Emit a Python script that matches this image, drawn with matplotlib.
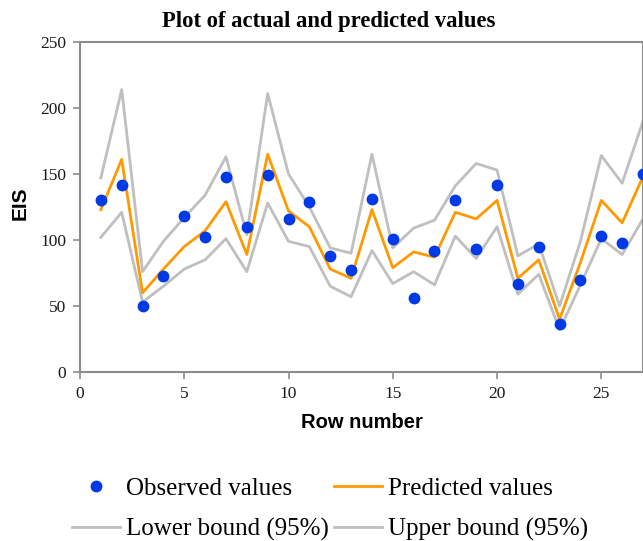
import matplotlib
matplotlib.use("Agg")
import matplotlib.pyplot as plt
from matplotlib.lines import Line2D

# values
rows = list(range(1, 28))
observed = [130, 142, 50, 73, 118, 102, 148, 110, 149, 116, 129, 88, 77,
            131, 101, 56, 92, 130, 93, 142, 67, 95, 36, 70, 103, 98, 150]
predicted = [123, 161, 60, 78, 95, 107, 129, 89, 165, 122, 110, 78, 71,
             123, 79, 91, 87, 121, 116, 130, 71, 85, 40, 83, 130, 113, 148]
lower = [102, 121, 53, 65, 78, 85, 101, 76, 128, 99, 95, 65, 57,
         92, 67, 76, 66, 103, 86, 110, 59, 74, 32, 66, 101, 89, 116]
upper = [147, 214, 76, 99, 117, 134, 163, 104, 211, 150, 125, 94, 90,
         165, 94, 109, 115, 141, 158, 153, 88, 97, 50, 99, 164, 143, 190]

serif = ["Liberation Serif", "DejaVu Serif"]
sans = ["Liberation Sans", "DejaVu Sans"]
gray = "#bfbfbf"
axis_col = "#8c8c8c"

fig = plt.figure(figsize=(6.43, 5.41), dpi=100)
ax = fig.add_axes([80 / 643, 1 - 372 / 541, 563 / 643, 330 / 541])

ax.plot(rows, lower, color=gray, lw=2, zorder=2)
ax.plot(rows, upper, color=gray, lw=2, zorder=2)
ax.plot(rows, predicted, color="#ff9900", lw=2, zorder=3)
ax.plot(rows, observed, "o", color="#0039e6", ms=7.5, zorder=4)

ax.set_xlim(0, 27)
ax.set_ylim(0, 250)
ax.set_xticks([0, 5, 10, 15, 20, 25])
ax.set_yticks([0, 50, 100, 150, 200, 250])
for s in ["left", "bottom", "top", "right"]:
    ax.spines[s].set_color(axis_col)
    ax.spines[s].set_linewidth(1.5)
ax.tick_params(colors=axis_col, length=5, width=1.2, pad=5,
               labelcolor="#1a1a1a")
for lab in ax.get_xticklabels() + ax.get_yticklabels():
    lab.set_family(serif)
    lab.set_fontsize(12.5)

fig.text(329 / 643, 1 - 22 / 541, "Plot of actual and predicted values",
         family=serif, fontsize=16.3, fontweight="bold", ha="center", va="center")
fig.text(362 / 643, 1 - 422 / 541, "Row number", family=sans, fontsize=14.5,
         fontweight="bold", ha="center", va="center")
fig.text(20 / 643, 1 - 203 / 541, "EIS", family=sans, fontsize=15,
         fontweight="bold", ha="center", va="center", rotation=90)

handles = [
    Line2D([], [], ls="none", marker="o", color="#0039e6", ms=7.5),
    Line2D([], [], color="#ff9900", lw=2),
    Line2D([], [], color=gray, lw=2),
    Line2D([], [], color=gray, lw=2),
]
labels = ["Observed values", "Predicted values",
          "Lower bound (95%)", "Upper bound (95%)"]
fig.legend([handles[0], handles[2], handles[1], handles[3]],
           [labels[0], labels[2], labels[1], labels[3]],
           ncol=2, loc="center", bbox_to_anchor=(330 / 643, 1 - 509 / 541),
           frameon=False, prop={"family": serif, "size": 18},
           handlelength=1.92, handletextpad=0.24, columnspacing=0.24,
           labelspacing=0.72, borderaxespad=0, borderpad=0)

fig.savefig("out.png", dpi=100)
